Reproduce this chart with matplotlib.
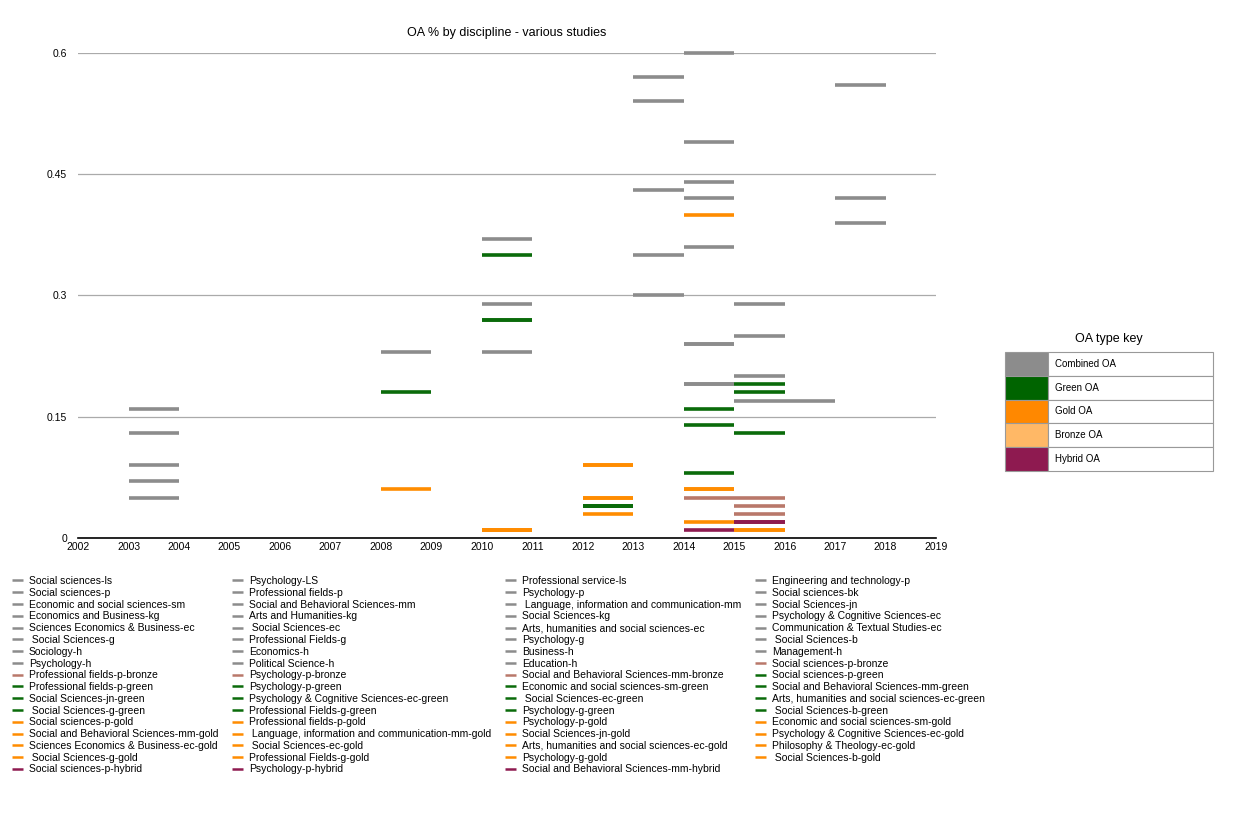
import matplotlib
import matplotlib.pyplot as plt
from matplotlib.patches import Rectangle

matplotlib.rc('font', **{'family': 'Liberation Sans'})

# series, in legend order (read across the rows)
labels = [
    "Social sciences-ls", "Psychology-LS", "Professional service-ls", "Engineering and technology-p",
    "Social sciences-p", "Professional fields-p", "Psychology-p", "Social sciences-bk",
    "Economic and social sciences-sm", "Social and Behavioral Sciences-mm",
    " Language, information and communication-mm", "Social Sciences-jn",
    "Economics and Business-kg", "Arts and Humanities-kg", "Social Sciences-kg", "Psychology & Cognitive Sciences-ec",
    "Sciences Economics & Business-ec", " Social Sciences-ec", "Arts, humanities and social sciences-ec",
    "Communication & Textual Studies-ec",
    " Social Sciences-g", "Professional Fields-g", "Psychology-g", " Social Sciences-b",
    "Sociology-h", "Economics-h", "Business-h", "Management-h",
    "Psychology-h", "Political Science-h", "Education-h", "Social sciences-p-bronze",
    "Professional fields-p-bronze", "Psychology-p-bronze", "Social and Behavioral Sciences-mm-bronze",
    "Social sciences-p-green",
    "Professional fields-p-green", "Psychology-p-green", "Economic and social sciences-sm-green",
    "Social and Behavioral Sciences-mm-green",
    "Social Sciences-jn-green", "Psychology & Cognitive Sciences-ec-green", " Social Sciences-ec-green",
    "Arts, humanities and social sciences-ec-green",
    " Social Sciences-g-green", "Professional Fields-g-green", "Psychology-g-green", " Social Sciences-b-green",
    "Social sciences-p-gold", "Professional fields-p-gold", "Psychology-p-gold",
    "Economic and social sciences-sm-gold",
    "Social and Behavioral Sciences-mm-gold", " Language, information and communication-mm-gold",
    "Social Sciences-jn-gold", "Psychology & Cognitive Sciences-ec-gold",
    "Sciences Economics & Business-ec-gold", " Social Sciences-ec-gold",
    "Arts, humanities and social sciences-ec-gold", "Philosophy & Theology-ec-gold",
    " Social Sciences-g-gold", "Professional Fields-g-gold", "Psychology-g-gold", " Social Sciences-b-gold",
    "Social sciences-p-hybrid", "Psychology-p-hybrid", "Social and Behavioral Sciences-mm-hybrid",
]

start_years = [
    2003, 2003, 2003, 2015,
    2015, 2015, 2015, 2016,
    2003, 2014, 2014, 2003,
    2017, 2017, 2017, 2013,
    2013, 2013, 2013, 2013,
    2010, 2010, 2010, 2008,
    2014, 2014, 2014, 2014,
    2014, 2014, 2014, 2015,
    2015, 2015, 2014, 2015,
    2015, 2015, 2014, 2014,
    2014, 2012, 2012, 2012,
    2010, 2010, 2010, 2008,
    2015, 2015, 2015, 2014,
    2014, 2014, 2014, 2012,
    2012, 2012, 2012, 2012,
    2010, 2010, 2010, 2008,
    2015, 2015, 2014,
]

values = [
    0.16, 0.13, 0.09, 0.29,
    0.25, 0.20, 0.17, 0.17,
    0.07, 0.24, 0.19, 0.05,
    0.56, 0.42, 0.39, 0.57,
    0.54, 0.43, 0.35, 0.30,
    0.37, 0.29, 0.23, 0.23,
    0.60, 0.49, 0.44, 0.42,
    0.36, 0.24, 0.19, 0.05,
    0.04, 0.03, 0.05, 0.19,
    0.18, 0.13, 0.16, 0.08,
    0.14, 0.04, 0.04, 0.04,
    0.35, 0.27, 0.27, 0.18,
    0.01, 0.01, 0.02, 0.06,
    0.02, 0.40, 0.06, 0.09,
    0.05, 0.03, 0.05, 0.09,
    0.01, 0.01, 0.01, 0.06,
    0.02, 0.02, 0.01,
]

oa_types = (["combined"] * 31 + ["bronze"] * 4 + ["green"] * 13 + ["gold"] * 16 + ["hybrid"] * 3)

line_colors = {
    "combined": "#8c8c8c",
    "green": "#0a6b0a",
    "gold": "#ff8c00",
    "bronze": "#b9786a",
    "hybrid": "#8e1a50",
}

key_labels = ["Combined OA", "Green OA", "Gold OA", "Bronze OA", "Hybrid OA"]
key_colors = ["#8c8c8c", "#006400", "#ff8800", "#ffb866", "#8e1a50"]

fig = plt.figure(figsize=(12.59, 8.25), dpi=100)
ax = fig.add_axes([0.062, 0.3479, 0.6815, 0.588])

handles = []
for lab, yr, val, t in zip(labels, start_years, values, oa_types):
    h = ax.hlines(val, yr, yr + 1, colors=line_colors[t], linewidth=2.6, label=lab,
                  zorder=3, clip_on=False)
    handles.append(h)

ax.set_xlim(2002, 2019)
ax.set_ylim(0, 0.6)
ax.set_xticks(range(2002, 2020))
ax.set_xticklabels([str(y) for y in range(2002, 2020)], fontsize=7.5)
ax.set_yticks([0, 0.15, 0.3, 0.45, 0.6])
ax.set_yticklabels(["0", "0.15", "0.3", "0.45", "0.6"], fontsize=7.5)
ax.tick_params(axis='both', length=0, pad=8)
ax.tick_params(axis='x', pad=3)
ax.grid(axis='y', color='#aaaaaa', linewidth=0.9, zorder=0)
for s in ['left', 'right', 'top']:
    ax.spines[s].set_visible(False)
ax.spines['bottom'].set_color('black')
ax.spines['bottom'].set_linewidth(1.2)
ax.set_title("OA % by discipline - various studies", fontsize=9, pad=12)

# legend goes across rows; matplotlib fills down columns, so reorder
ncol = 4
order = [i for c in range(ncol) for i in range(c, len(handles), ncol)]
leg = fig.legend([handles[i] for i in order], [labels[i] for i in order],
                 loc='upper left', bbox_to_anchor=(0.0064, 0.3067), ncol=ncol, frameon=False,
                 fontsize=7.5, handlelength=1.0, handletextpad=0.6, columnspacing=1.35,
                 labelspacing=0.17, borderaxespad=0)
for ln in leg.get_lines():
    ln.set_linewidth(1.8)

# OA type key table
kax = fig.add_axes([1005 / 1259, 1 - 471 / 825, 208 / 1259, 119 / 825])
kax.set_xlim(0, 1)
kax.set_ylim(0, 5)
kax.axis('off')
for i, (kl, kc) in enumerate(zip(key_labels, key_colors)):
    y0 = 4 - i
    kax.add_patch(Rectangle((0, y0), 0.207, 1, facecolor=kc, edgecolor='#999999',
                            linewidth=0.8, clip_on=False))
    kax.add_patch(Rectangle((0.207, y0), 0.793, 1, facecolor='white', edgecolor='#999999',
                            linewidth=0.8, clip_on=False))
    kax.text(0.24, y0 + 0.5, kl, fontsize=7, va='center', ha='left')
kax.text(0.5, 5.55, "OA type key", fontsize=9, ha='center', va='center')

plt.savefig("out.png", dpi=100)
